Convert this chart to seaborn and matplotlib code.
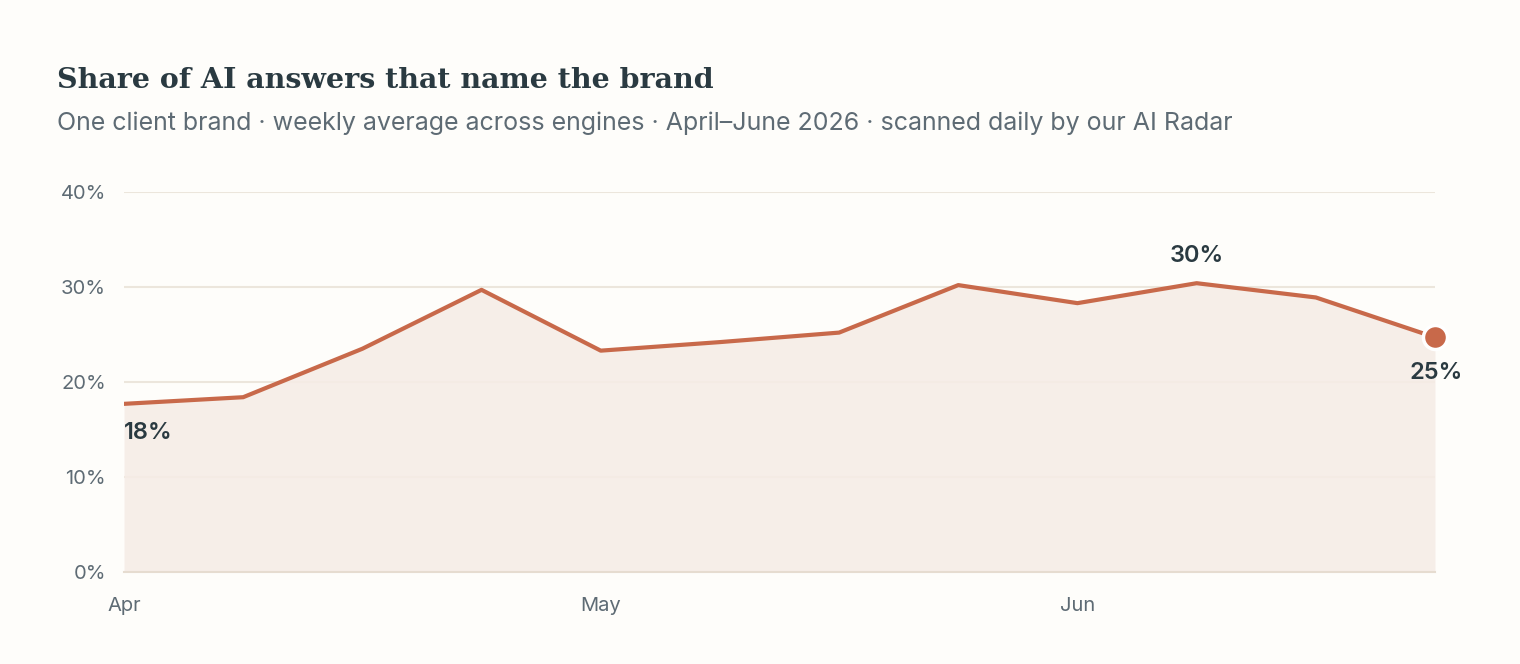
import matplotlib
matplotlib.use("Agg")
import matplotlib.pyplot as plt
import matplotlib.ticker as mticker
import numpy as np
import pandas as pd
import seaborn as sns

# %% Datos
semanas = list(range(12))
participacion = [17.7, 18.4, 23.5, 29.7, 23.3, 24.2, 25.2, 30.2, 28.3, 30.4, 28.9, 24.7]
meses_pos = [0, 4, 8]
meses_lab = ["Apr", "May", "Jun"]
y_ticks = [0, 10, 20, 30, 40]

df = pd.DataFrame({"semana": semanas, "share": participacion})

# %% Colores
fondo = "#FEFDFA"
linea = "#C8694A"
relleno = "#F6ECE6"
grilla = "#ECE6DC"
oscuro = "#2A3A41"
gris = "#5E6B74"

sns.set_theme(style="white")
plt.rcParams["font.family"] = ["Inter", "DejaVu Sans"]

fig = plt.figure(figsize=(15.2, 6.64), dpi=100, facecolor=fondo)
ax = fig.add_axes([124 / 1520, 92 / 664, (1435 - 124) / 1520, 380 / 664])
ax.set_facecolor(fondo)

# area bajo la curva
ax.fill_between(df["semana"], df["share"], 0, color=relleno, alpha=0.88, zorder=2, linewidth=0)
sns.lineplot(data=df, x="semana", y="share", color=linea, linewidth=3, ax=ax, zorder=3)
ult = df.iloc[[-1]]
sns.scatterplot(data=ult, x="semana", y="share", s=300, color=linea, edgecolor="white",
                linewidth=2.5, ax=ax, zorder=4, clip_on=False)

# etiquetas de puntos
estilo = dict(textcoords="offset points", fontsize=17, fontweight="semibold", color=oscuro)
ax.annotate(f"{participacion[0]:.0f}%", (semanas[0], participacion[0]), xytext=(0, -13),
            ha="left", va="top", **estilo)
imax = int(np.argmax(participacion))
ax.annotate(f"{participacion[imax]:.0f}%", (semanas[imax], participacion[imax]), xytext=(0, 12),
            ha="center", va="bottom", **estilo)
ax.annotate(f"{participacion[-1]:.0f}%", (semanas[-1], participacion[-1]), xytext=(1, -18),
            ha="center", va="top", **estilo)

# ejes
ax.set_xlim(0, 11)
ax.set_ylim(0, 40)
ax.set_yticks(y_ticks)
ax.yaxis.set_major_formatter(mticker.FuncFormatter(lambda v, p: f"{v:.0f}%"))
ax.set_xticks(meses_pos)
ax.set_xticklabels(meses_lab)
ax.tick_params(axis="both", length=0, labelsize=14.5, labelcolor=gris)
ax.tick_params(axis="y", pad=13)
ax.tick_params(axis="x", pad=18)
ax.grid(axis="y", color=grilla, linewidth=1.5, zorder=1)
ax.set_axisbelow(True)
for s in ["top", "right", "left"]:
    ax.spines[s].set_visible(False)
ax.spines["bottom"].set_color("#E6DCD0")
ax.spines["bottom"].set_linewidth(1.5)
ax.set_xlabel("")
ax.set_ylabel("")

# titulos
fig.text(57 / 1520, 1 - 88 / 664, "Share of AI answers that name the brand", fontsize=20.5,
         fontweight="bold", family=["DejaVu Serif"], color=oscuro, va="baseline")
fig.text(57 / 1520, 1 - 130 / 664,
         "One client brand · weekly average across engines · April–June 2026 · scanned daily by our AI Radar",
         fontsize=18, color=gris, va="baseline")

fig.savefig("out.png", dpi=100, facecolor=fondo)
